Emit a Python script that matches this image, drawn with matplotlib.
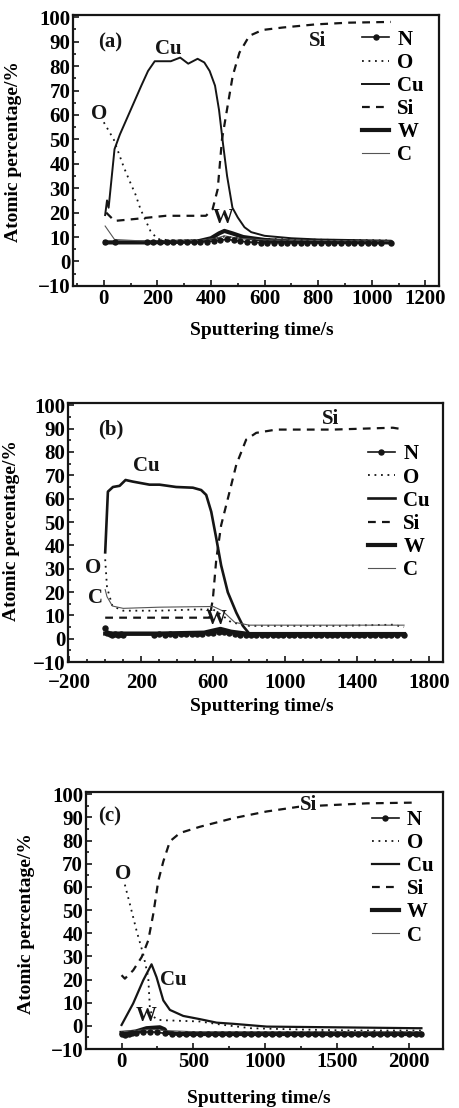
import matplotlib
matplotlib.use("Agg")
import matplotlib.pyplot as plt
from matplotlib.ticker import MultipleLocator

plt.rcParams['font.family'] = ['Liberation Serif', 'DejaVu Serif']
plt.rcParams['font.weight'] = 'bold'
plt.rcParams['axes.labelweight'] = 'bold'

INK = '#151515'

# ---------------- (a) ----------------
t_n_a = [5, 40, 160, 185, 210, 235, 260, 285, 310, 335, 360, 385, 410, 435, 460, 485,
         510, 535, 560, 585, 610, 635, 660, 685, 710, 735, 760, 785, 810, 835, 860,
         885, 910, 935, 960, 985, 1010, 1035, 1070]
n_a = [7.8, 7.8, 7.8, 7.9, 8.0, 7.9, 7.8, 7.9, 8.0, 7.9, 8.0, 8.1, 8.4, 8.8, 9.0, 8.7,
       8.3, 8.0, 7.8, 7.7, 7.6, 7.7, 7.6, 7.7, 7.6, 7.7, 7.6, 7.7, 7.6, 7.7, 7.6,
       7.7, 7.6, 7.7, 7.6, 7.7, 7.6, 7.7, 7.7]
t_o_a = [0, 37, 75, 100, 118, 137, 174, 200, 250, 350, 420, 450, 500, 600, 800, 1070]
o_a = [57, 50, 38.5, 32, 27.5, 21.4, 12.5, 9.2, 8.6, 8.6, 9.5, 10.2, 9.6, 9.2, 8.9, 8.6]
t_cu_a = [5, 12, 18, 40, 60, 100, 140, 165, 190, 250, 285, 315, 350, 375, 395, 415,
          430, 445, 460, 480, 500, 525, 550, 600, 700, 800, 1070]
cu_a = [19, 25, 22, 46, 52, 62, 72, 78, 82, 82, 83.5, 81, 83, 81.5, 78, 72,
        62, 48, 35, 22, 18, 14, 12, 10.5, 9.5, 9, 8.5]
t_si_a = [9, 40, 108, 232, 307, 381, 406, 425, 441, 462, 481, 506, 543, 592, 667,
          791, 915, 1071]
si_a = [20, 16.6, 17.3, 18.7, 18.7, 18.7, 21.4, 29.6, 50, 63.7, 76, 85.5, 92.4, 94.8,
        95.8, 97.1, 97.8, 98.1]
t_w_a = [5, 160, 350, 400, 430, 450, 480, 520, 600, 700, 1070]
w_a = [7.8, 7.8, 8.2, 9.5, 11.5, 12.5, 11.5, 10, 8.8, 8.2, 7.8]
t_c_a = [5, 40, 160, 350, 420, 450, 500, 600, 1070]
c_a = [14.5, 9, 8.3, 8.5, 9.5, 10.5, 9.5, 8.8, 8.3]

# ---------------- (b) ----------------
t_n_b = [0, 12, 25, 40, 55, 70, 85, 100, 270, 300, 330, 360, 390, 420, 450, 480,
         510, 540, 570, 600, 630, 660, 690, 720, 750, 780, 810, 840, 870, 900, 930,
         960, 990, 1020, 1050, 1080, 1110, 1140, 1170, 1200, 1230, 1260, 1290, 1320,
         1350, 1380, 1410, 1440, 1470, 1500, 1530, 1560, 1590, 1620, 1660]
n_b = [4.5, 2.5, 2.0, 1.6, 2.0, 1.6, 1.8, 1.6, 1.6, 1.8, 1.6, 1.8, 1.7, 1.8, 1.9, 2.0,
       2.0, 2.1, 2.3, 2.5, 2.8, 3.0, 2.6, 2.0, 1.7, 1.6, 1.5, 1.6, 1.5, 1.6, 1.5,
       1.6, 1.5, 1.6, 1.5, 1.6, 1.5, 1.6, 1.5, 1.6, 1.5, 1.6, 1.5, 1.6,
       1.5, 1.6, 1.5, 1.6, 1.5, 1.6, 1.5, 1.6, 1.5, 1.6, 1.5]
t_o_b = [0, 10, 40, 100, 300, 500, 600, 650, 700, 800, 1000, 1300, 1600, 1660]
o_b = [34, 22, 14, 12, 12, 12.5, 12.5, 10, 7, 5.5, 5.5, 5.5, 6, 5]
t_cu_b = [0, 15, 43, 80, 113, 154, 246, 302, 394, 487, 533, 561, 589, 617, 644, 681,
          728, 765, 802, 900, 1200, 1660]
cu_b = [37, 63, 65, 65.5, 68, 67.3, 66, 66, 65, 64.7, 63.7, 61.6, 54.4, 43, 31.4, 19.9,
        11.2, 5.5, 2, 1.5, 1.5, 1.5]
t_si_b = [0, 100, 300, 580, 598, 617, 644, 691, 728, 783, 839, 950, 1265, 1598, 1663]
si_b = [9, 9, 9, 9, 17, 34, 48.6, 63, 74.5, 85.3, 88.2, 89.6, 89.6, 90.4, 89.6]
t_w_b = [0, 100, 300, 550, 600, 640, 700, 800, 1660]
w_b = [2.2, 2.2, 2.2, 2.6, 3.5, 4.2, 3.0, 2.0, 2.0]
t_c_b = [0, 10, 40, 100, 300, 600, 650, 720, 800, 1660]
c_b = [21, 18, 14, 13, 13.5, 13.8, 12, 7, 5.8, 5.8]

# ---------------- (c) ----------------
t_n_c = [0, 25, 50, 75, 100, 150, 200, 250, 300, 350, 400, 450, 500, 550, 600, 650,
         700, 750, 800, 850, 900, 950, 1000, 1050, 1100, 1150, 1200, 1250, 1300,
         1350, 1400, 1450, 1500, 1550, 1600, 1650, 1700, 1750, 1800, 1850, 1900,
         1950, 2000, 2050, 2090]
n_c = [-3.5, -4.0, -3.5, -3.2, -3.0, -2.8, -2.5, -2.8, -3.2, -3.5, -3.6, -3.5, -3.6,
       -3.5, -3.6, -3.5, -3.6, -3.5, -3.6, -3.5, -3.6, -3.5, -3.6, -3.5, -3.6, -3.5,
       -3.6, -3.5, -3.6, -3.5, -3.6, -3.5, -3.6, -3.5, -3.6, -3.5, -3.6, -3.5, -3.6,
       -3.5, -3.6, -3.5, -3.6, -3.5, -3.6]
t_o_c = [23, 58, 105, 151, 186, 198, 221, 256, 314, 547, 700, 900, 1200, 1600, 2090]
o_c = [61, 52.6, 41, 31, 21, 6.9, 4, 2.6, 2.4, 1.9, 0.5, -1, -1.5, -2, -2]
t_cu_c = [0, 81, 151, 209, 244, 291, 337, 430, 547, 663, 779, 1012, 1477, 2058, 2090]
cu_c = [0.4, 9.7, 19.7, 26.6, 21, 11, 6.9, 4.3, 2.9, 1.4, 0.9, -0.3, -0.6, -1, -1]
t_si_c = [0, 23, 81, 140, 186, 221, 256, 291, 337, 407, 547, 779, 1012, 1244, 1477,
          1709, 2023]
si_c = [21.9, 20.4, 24, 29.7, 36.9, 48.3, 62.6, 71, 79.7, 83.3, 86, 89.7, 92.6, 94.7,
        95.4, 96.1, 96.4]
t_w_c = [0, 50, 100, 174, 267, 300, 314, 400, 2090]
w_c = [-3, -2.8, -2.4, -1, -0.6, -1.5, -2.9, -3.5, -3.5]
t_c_c = [0, 200, 300, 500, 1000, 2090]
c_c = [-2.5, -1.5, -2, -2.5, -2.5, -2.5]

element_names = ['N', 'O', 'Cu', 'Si', 'W', 'C']

panels = [
    dict(tag='(a)', rect=[0.159, 0.742, 0.797, 0.2446], xlim=(-115, 1250),
         xmajor=(200, 0), xminor=100, xpad=2,
         series=[(t_n_a, n_a), (t_o_a, o_a), (t_cu_a, cu_a), (t_si_a, si_a),
                 (t_w_a, w_a), (t_c_a, c_a)],
         cu_lw=1.4,
         notes=[('(a)', 25, 89.8), ('Cu', 241, 86.9), ('Si', 796, 90.2),
                ('O', -16, 60.3), ('W', 446, 17.7)],
         leg=(0.79, 0.945), ylab=(-0.139, 0.494), xlab=(0.516, -0.133)),
    dict(tag='(b)', rect=[0.148, 0.4025, 0.817, 0.2338], xlim=(-207, 1876),
         xmajor=(400, 200), xminor=100, xpad=8,
         series=[(t_n_b, n_b), (t_o_b, o_b), (t_cu_b, cu_b), (t_si_b, si_b),
                 (t_w_b, w_b), (t_c_b, c_b)],
         cu_lw=1.9,
         notes=[('(b)', 30, 89.5), ('Cu', 228, 73.8), ('Si', 1250, 94),
                ('O', -69, 30.2), ('C', -56, 17.3), ('W', 617, 8.3)],
         leg=(0.80, 0.84), ylab=(-0.128, 0.506), xlab=(0.517, -0.14)),
    dict(tag='(c)', rect=[0.187, 0.0532, 0.778, 0.232], xlim=(-249, 2240),
         xmajor=(500, 0), xminor=250, xpad=2,
         series=[(t_n_c, n_c), (t_o_c, o_c), (t_cu_c, cu_c), (t_si_c, si_c),
                 (t_w_c, w_c), (t_c_c, c_c)],
         cu_lw=1.6,
         notes=[('(c)', -81, 90.4), ('O', 12, 65.7), ('Cu', 360, 20),
                ('W', 174, 4.3), ('Si', 1302, 95.4)],
         leg=(0.80, 0.93), ylab=(-0.143, 0.49), xlab=(0.483, -0.16)),
]

fig = plt.figure(figsize=(4.59, 11.08), dpi=100)

for p in panels:
    ax = fig.add_axes(p['rect'])
    (tn, n), (to, o), (tcu, cu), (tsi, si), (tw, w), (tc, c) = p['series']
    ax.plot(tn, n, color=INK, lw=1.2, marker='o', ms=3.6, label='N', zorder=5)
    ax.plot(to, o, color=INK, lw=1.3, linestyle=(0, (1, 2.6)), label='O')
    ax.plot(tcu, cu, color=INK, lw=p['cu_lw'], label='Cu')
    ax.plot(tsi, si, color=INK, lw=1.6, linestyle=(0, (3.5, 2.8)), label='Si')
    ax.plot(tw, w, color=INK, lw=3.0, label='W')
    ax.plot(tc, c, color='#555555', lw=0.8, label='C')

    ax.set_xlim(*p['xlim'])
    ax.set_ylim(-10, 101)
    step, off = p['xmajor']
    ax.xaxis.set_major_locator(MultipleLocator(step, offset=off))
    ax.xaxis.set_minor_locator(MultipleLocator(p['xminor']))
    ax.yaxis.set_major_locator(MultipleLocator(10))
    ax.yaxis.set_minor_locator(MultipleLocator(5))
    ax.tick_params(which='both', direction='in', top=False, right=False,
                   width=1.2, labelsize=15, pad=2, color=INK)
    ax.tick_params(axis='x', pad=p['xpad'])
    ax.tick_params(which='major', length=4)
    ax.tick_params(which='minor', length=2.5)
    for lab in ax.get_xticklabels() + ax.get_yticklabels():
        lab.set_fontweight('bold')
    for s in ax.spines.values():
        s.set_linewidth(1.6)
        s.set_color(INK)

    ax.set_xlabel('Sputtering time/s', fontsize=14, fontweight='bold')
    ax.set_ylabel('Atomic percentage/%', fontsize=14, fontweight='bold')
    ax.yaxis.set_label_coords(*p['ylab'])
    ax.xaxis.set_label_coords(*p['xlab'])

    for txt, x, y in p['notes']:
        kw = {}
        if p['tag'] == '(c)' and txt == 'Si':
            kw = dict(bbox=dict(facecolor='white', edgecolor='none', pad=0.5))
        ax.text(x, y, txt, fontsize=15, fontweight='bold', ha='center',
                va='center', color=INK, zorder=6, **kw)

    leg = ax.legend(loc='upper left', bbox_to_anchor=p['leg'], frameon=False,
                    fontsize=15, handlelength=1.3, handletextpad=0.4,
                    labelspacing=0.15, borderpad=0, borderaxespad=0, numpoints=1)
    for t in leg.get_texts():
        t.set_fontweight('bold')

fig.savefig('out.png', dpi=100)
